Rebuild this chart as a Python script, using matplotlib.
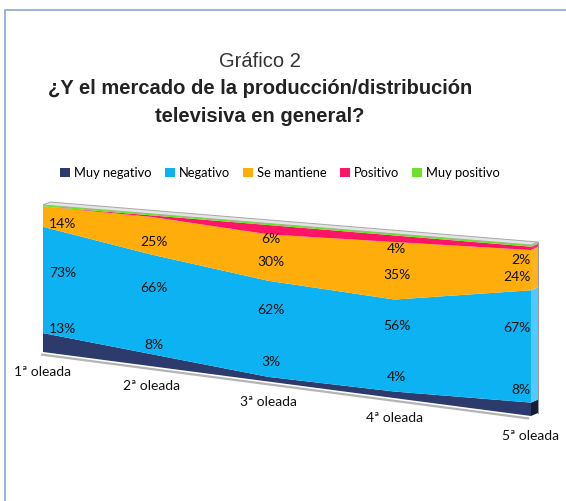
import numpy as np
import matplotlib
matplotlib.use("Agg")
import matplotlib.pyplot as plt
from matplotlib.transforms import Transform, Affine2D, offset_copy
from matplotlib.patches import Polygon, Patch

# ---------------- data ----------------
categories = ["1ª oleada", "2ª oleada", "3ª oleada", "4ª oleada", "5ª oleada"]
series_names = ["Muy negativo", "Negativo", "Se mantiene", "Positivo", "Muy positivo"]
muy_negativo = [13, 8, 3, 4, 8]
negativo = [73, 66, 62, 56, 67]
se_mantiene = [14, 25, 30, 35, 24]
positivo = [0, 1, 6, 4, 2]
muy_positivo = [1, 1, 1, 1, 1]
show_label = [True, True, True, True, False]   # per series
min_label = 2

colors = ["#2d3b6c", "#0cb2f2", "#ffad0a", "#ff1468", "#6ee02c"]
side_colors = ["#151c36", "#4fcaff", "#ffb31f", "#ff2f78", "#7ee83c"]

W, H = 566, 501
fig = plt.figure(figsize=(W / 100, H / 100), dpi=100)
ax = fig.add_axes([0, 0, 1, 1])
ax.set_xlim(0, W)
ax.set_ylim(H, 0)
ax.axis("off")


class Homography(Transform):
    input_dims = output_dims = 2

    def __init__(self, src, dst):
        super().__init__()
        A, b = [], []
        for (x, y), (X, Y) in zip(src, dst):
            A.append([x, y, 1, 0, 0, 0, -X * x, -X * y]); b.append(X)
            A.append([0, 0, 0, x, y, 1, -Y * x, -Y * y]); b.append(Y)
        h = np.linalg.solve(np.array(A, float), np.array(b, float))
        self.M = np.append(h, 1.0).reshape(3, 3)

    def transform_non_affine(self, values):
        v = np.asarray(values, float).reshape(-1, 2)
        p = np.c_[v, np.ones(len(v))] @ self.M.T
        return p[:, :2] / p[:, 2:3]


n = len(categories)
x = np.arange(n)
src = [(0, 0), (0, 100), (n - 1, 100), (n - 1, 0)]
front_quad = [(43, 352), (43, 205), (531, 245), (531, 416)]
label_quad = [(43, 336.5), (43, 214.5), (531, 257), (531, 395.7)]
depth = (7, -3)

persp = Homography(src, front_quad)
front = persp + ax.transData
persp_lab = Homography(src, label_quad)

vals = np.array([muy_negativo, negativo, se_mantiene, positivo, muy_positivo], float)
totals = vals.sum(axis=0)
pct = vals / totals * 100
cum = np.vstack([np.zeros(n), np.cumsum(pct, axis=0)])

# floor edge
ax.plot([0, n - 1], [0, 0], transform=persp + Affine2D().translate(-2, 2.5) + ax.transData,
        color="#b4b4b4", lw=1.6, solid_capstyle="butt", zorder=1)

# right side faces
for k in range(len(series_names)):
    lo, hi = cum[k, -1], cum[k + 1, -1]
    pts = np.array([[n - 1, lo], [n - 1, hi]], float)
    f = front.transform(pts)
    verts = np.vstack([f, f[::-1] + np.array([depth[0], -depth[1]])])
    ax.add_patch(Polygon(ax.transData.inverted().transform(verts), closed=True,
                         facecolor=side_colors[k], edgecolor="none", zorder=2))
f = front.transform(np.array([[n - 1, 0], [n - 1, 100]], float))
bk = f + np.array([depth[0], -depth[1]])
ax.plot(*ax.transData.inverted().transform(bk).T, color="#9a9a9a", lw=0.8, zorder=3)

# top face
ftop = front.transform(np.c_[x, np.full(n, 100.0)])
btop = ftop + np.array([depth[0], -depth[1]])
ax.add_patch(Polygon(ax.transData.inverted().transform(np.vstack([ftop, btop[::-1]])),
                     closed=True, facecolor="#e4e4e4", edgecolor="#a8a8a8", lw=0.7, zorder=2))

# front stacked areas
for k in range(len(series_names)):
    upper = cum[k + 1]
    lower = cum[k]
    verts = np.r_[np.c_[x, upper], np.c_[x[::-1], lower[::-1]]]
    ax.add_patch(Polygon(verts, closed=True, transform=front,
                         facecolor=colors[k], edgecolor="none", zorder=4))

# data labels
font = ["Lato", "DejaVu Sans"]
for k in range(len(series_names)):
    if not show_label[k]:
        continue
    for i in range(n):
        if vals[k, i] < min_label:
            continue
        ymid = (cum[k, i] + cum[k + 1, i]) / 2
        dx, ha = 0, "center"
        if i == 0:
            dx, ha = 6, "left"
        elif i == n - 1:
            dx, ha = 0, "right"
        dy = 11 if k == 1 and 0 < i else 4 if k == 1 else 0
        tr = offset_copy(persp_lab + ax.transData, fig=fig, x=dx, y=dy, units="dots")
        ax.text(i, ymid, f"{vals[k, i]:.0f}%", transform=tr, ha=ha, va="center",
                fontsize=10, family=font, color="#111111", zorder=6)

# category labels
for i, c in enumerate(categories):
    tr = offset_copy(front, fig=fig, x=0, y=-20, units="dots")
    ax.text(i, 0, c, transform=tr, ha="center", va="center", fontsize=10,
            family=font, color="#111111")

# titles
ax.text(260, 61, "Gráfico 2", ha="center", va="center", fontsize=14.5,
        family=["Liberation Sans"], color="#333333")
ax.text(260, 88, "¿Y el mercado de la producción/distribución", ha="center", va="center",
        fontsize=14.5, fontweight="bold", family=["Liberation Sans"], color="#222222")
ax.text(260, 116, "televisiva en general?", ha="center", va="center",
        fontsize=14.5, fontweight="bold", family=["Liberation Sans"], color="#222222")

# legend
handles = [Patch(facecolor=colors[k], edgecolor="none") for k in range(len(series_names))]
ax.legend(handles, series_names, loc="center", bbox_to_anchor=(280, 173),
          bbox_transform=ax.transData, ncol=5, frameon=False,
          prop={"family": font, "size": 9.3}, handlelength=0.8, handleheight=0.8,
          handletextpad=0.3, columnspacing=1.0, borderaxespad=0)

# frame
ax.plot([5, 5, W + 5], [H + 5, 10, 10], color="#8aa6d6", lw=1.2, zorder=0)

fig.savefig("out.png", dpi=100)
